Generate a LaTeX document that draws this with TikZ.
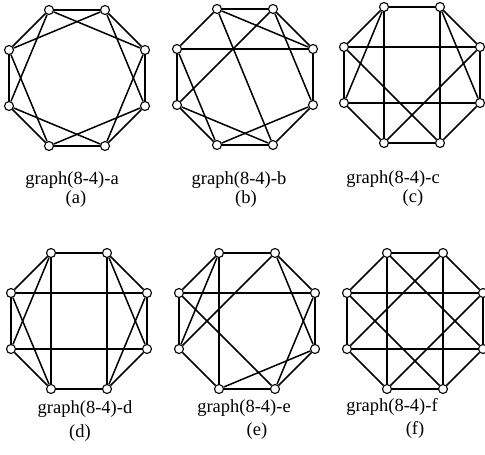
\documentclass[tikz,border=0pt]{standalone}
\usepackage{fontspec}
\setmainfont{Liberation Serif}
\begin{document}
\begin{tikzpicture}[x=1pt,y=-1pt,
  vtx/.style={circle,draw=black,fill=white,line width=1.1pt,inner sep=0pt,minimum size=9pt},
  edge/.style={line width=1.5pt,black},
  captxt/.style={font=\fontsize{18.5}{22}\selectfont,inner sep=0pt}]
\useasboundingbox (0,0) rectangle (485,455);
\newcommand\octa[3]{%
  \node[vtx] (#1-1) at (#2-28,#3-68) {};
  \node[vtx] (#1-2) at (#2+28,#3-68) {};
  \node[vtx] (#1-3) at (#2+68,#3-28) {};
  \node[vtx] (#1-4) at (#2+68,#3+28) {};
  \node[vtx] (#1-5) at (#2+28,#3+68) {};
  \node[vtx] (#1-6) at (#2-28,#3+68) {};
  \node[vtx] (#1-7) at (#2-68,#3+28) {};
  \node[vtx] (#1-8) at (#2-68,#3-28) {};}
\octa{a}{77}{78}
\octa{b}{245}{77}
\octa{c}{412}{75}
\octa{d}{79}{321}
\octa{e}{247}{321}
\octa{f}{415}{321}
% (a)
\foreach \u/\v in {1/2,2/3,3/4,4/5,5/6,6/7,7/8,8/1,1/3,2/4,3/5,4/6,5/7,6/8,7/1,8/2}
  \draw[edge] (a-\u) -- (a-\v);
% (b)
\foreach \u/\v in {1/2,1/8,2/3,1/3,1/5,2/7,2/4,8/3,8/7,8/6,3/4,4/5,4/6,5/6,5/7,6/7}
  \draw[edge] (b-\u) -- (b-\v);
% (c)
\foreach \u/\v in {1/2,1/8,1/7,1/6,2/3,2/4,2/5,8/3,8/7,8/5,3/6,3/4,7/4,7/6,4/5,6/5}
  \draw[edge] (c-\u) -- (c-\v);
% (d)
\foreach \u/\v in {1/2,1/8,1/7,1/6,2/3,2/4,2/5,8/3,8/7,8/6,7/4,7/6,3/5,3/4,4/5,6/5}
  \draw[edge] (d-\u) -- (d-\v);
% (e)
\foreach \u/\v in {1/2,1/8,1/7,1/6,2/7,2/3,2/4,8/7,8/3,8/5,7/6,3/4,3/5,4/6,4/5,6/5}
  \draw[edge] (e-\u) -- (e-\v);
% (f)
\foreach \u/\v in {1/2,2/3,3/4,4/5,5/6,6/7,7/8,8/1,1/6,2/5,8/3,7/4,1/4,8/5,2/7,3/6}
  \draw[edge] (f-\u) -- (f-\v);
% captions
\node[captxt] (ta) at (72,180) {graph(8-4)-a};
\node[captxt] (pa) at (76,199) {(a)};
\node[captxt] (tb) at (239,180) {graph(8-4)-b};
\node[captxt] (pb) at (246,199) {(b)};
\node[captxt] (tc) at (393,179) {graph(8-4)-c};
\node[captxt] (pc) at (413,198) {(c)};
\node[captxt] (td) at (85,409) {graph(8-4)-d};
\node[captxt] (pd) at (80,433) {(d)};
\node[captxt] (te) at (244,408) {graph(8-4)-e};
\node[captxt] (pe) at (257,431) {(e)};
\node[captxt] (tf) at (392,407) {graph(8-4)-f};
\node[captxt] (pf) at (415,430) {(f)};
\end{tikzpicture}
\end{document}
